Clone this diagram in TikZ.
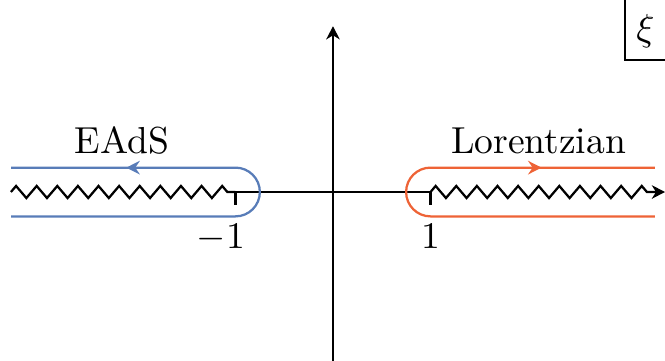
\documentclass[tikz,border=0pt]{standalone}
\usetikzlibrary{arrows.meta}
\definecolor{eadsblue}{RGB}{88,124,184}
\definecolor{lorange}{RGB}{238,99,54}
\begin{document}
\begin{tikzpicture}[x=0.912cm,y=0.912cm,
  axistip/.style={-{Stealth[length=3.5pt,width=3.6pt,inset=1.1pt]}},
  axisline/.style={semithick},
  contour/.style={semithick},
  flow/.style={-{Stealth[length=3.6pt,width=3.6pt,inset=1.2pt]}},
  lbl/.style={anchor=base,inner sep=0pt}
]
\useasboundingbox (-3.415,-1.723) rectangle (3.405,1.969);
% named points
\coordinate (O) at (0,0);
\coordinate (ytop) at (0,1.70);
\coordinate (ybot) at (0,-1.75);
\coordinate (m1) at (-1,0);
\coordinate (p1) at (1,0);
\coordinate (xleft) at (-3.303,0);
\coordinate (xright) at (3.405,0);
% vertical axis
\draw[axisline,axistip] (ybot) -- (ytop);
% horizontal axis
\draw[axisline] (m1) -- (p1);
% branch cut (-inf,-1]
\draw[axisline] (xleft) -- ++(0.0528,0.062)
  \foreach \k in {1,...,10}{ -- ++(0.1057,-0.124) -- ++(0.1057,0.124) }
  -- ++(0.0528,-0.062) -- (m1);
% branch cut [1,inf)
\draw[axisline,axistip] (p1) -- ++(0.0528,0.062)
  \foreach \k in {1,...,10}{ -- ++(0.1057,-0.124) -- ++(0.1057,0.124) }
  -- ++(0.0528,-0.062) -- (xright);
% ticks
\draw[axisline] (m1) -- ++(0,-0.135);
\draw[axisline] (p1) -- ++(0,-0.135);
\node[lbl] (lm1) at (-1,-0.575) {$\llap{$-$}1$};
\node[lbl] (lp1) at (1,-0.575) {$1$};
% EAdS contour
\draw[contour,eadsblue] (-3.3,0.25) -- (-1,0.25) arc[start angle=90,end angle=-90,radius=0.25] -- (-3.3,-0.25);
\draw[contour,eadsblue,flow] (-1.95,0.25) -- (-2.12,0.25);
\node[lbl] (eads) at (-2.165,0.397) {EAdS};
% Lorentzian contour
\draw[contour,lorange] (3.3,0.25) -- (1,0.25) arc[start angle=90,end angle=270,radius=0.25] -- (3.3,-0.25);
\draw[contour,lorange,flow] (1.97,0.25) -- (2.14,0.25);
\node[lbl] (lor) at (2.108,0.397) {Lorentzian};
% xi box
\coordinate (bxtop) at (2.995,2.0);
\coordinate (bxcorner) at (2.995,1.354);
\coordinate (bxright) at (3.45,1.354);
\draw[axisline] (bxtop) -- (bxcorner) -- (bxright);
\node[lbl] (xi) at (3.205,1.55) {$\xi$};
\end{tikzpicture}
\end{document}
